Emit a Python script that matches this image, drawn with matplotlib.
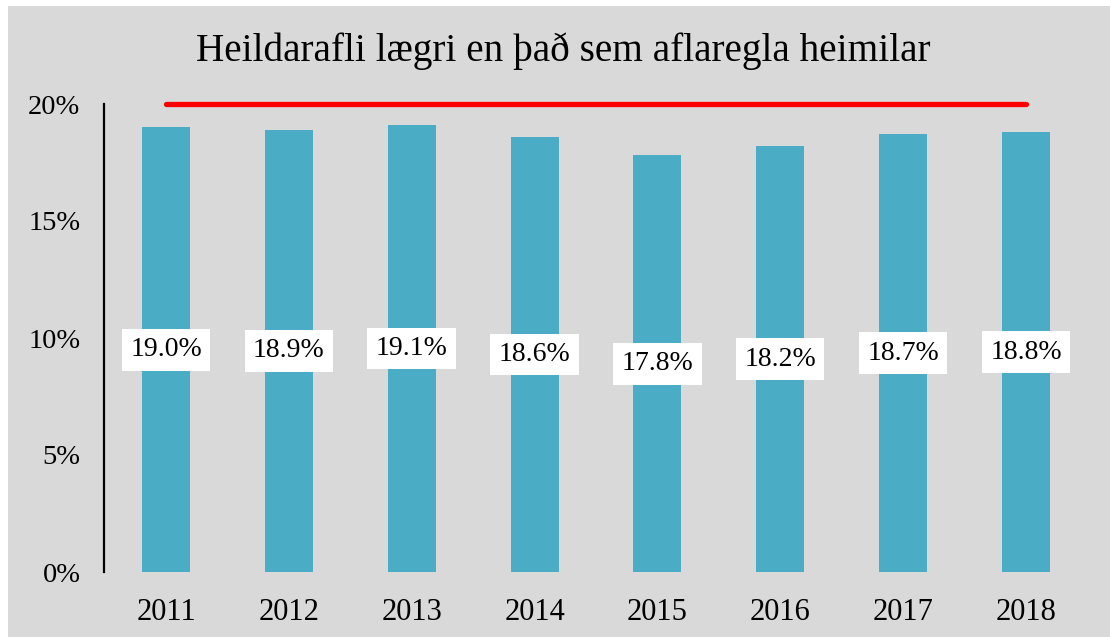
import matplotlib
matplotlib.use("Agg")
import matplotlib.pyplot as plt
from matplotlib.patches import Rectangle
from matplotlib.ticker import FuncFormatter

years = ["2011", "2012", "2013", "2014", "2015", "2016", "2017", "2018"]
values = [0.190, 0.189, 0.191, 0.186, 0.178, 0.182, 0.187, 0.188]
limit_value = 0.20
title = "Heildarafli lægri en það sem aflaregla heimilar"

plt.rcParams['font.family'] = ['Liberation Serif', 'DejaVu Serif']

fig = plt.figure(figsize=(11.10, 6.39), dpi=100)
fig.patch.set_facecolor("white")
fig.patches.append(Rectangle((8/1110, 2/639), 1102/1110, 631/639, transform=fig.transFigure,
                             facecolor="#d9d9d9", edgecolor="none", zorder=-10))

ax = fig.add_axes([104/1110, 67/639, 984/1110, 468/639])
ax.set_facecolor("none")
x = list(range(len(years)))
ax.bar(x, values, width=0.39, color="#4bacc6", zorder=2)
ax.plot([x[0], x[-1]], [limit_value, limit_value], color="#ff0000", lw=3.8,
        solid_capstyle="round", clip_on=False, zorder=3)

for xi, v in zip(x, values):
    ax.text(xi, v / 2, f"{v*100:.1f}%", ha="center", va="center", fontsize=20,
            bbox=dict(boxstyle="square,pad=0.3", facecolor="white", edgecolor="none"), zorder=4)

ax.set_xlim(-0.505, 7.505)
ax.set_ylim(0, 0.20)
ax.set_yticks([0, 0.05, 0.10, 0.15, 0.20])
ax.yaxis.set_major_formatter(FuncFormatter(lambda v, p: f"{v*100:.0f}%"))
ax.set_xticks(x)
ax.set_xticklabels(years)
ax.tick_params(axis="y", length=0, pad=17, labelsize=20.5)
ax.tick_params(axis="x", length=0, pad=19, labelsize=22)
for s in ["top", "right", "bottom"]:
    ax.spines[s].set_visible(False)
ax.spines["left"].set_linewidth(1.6)
ax.spines["left"].set_color("black")

fig.text(563/1110, 1 - 51/639, title, ha="center", va="center", fontsize=28.3)

fig.savefig("out.png", dpi=100)
